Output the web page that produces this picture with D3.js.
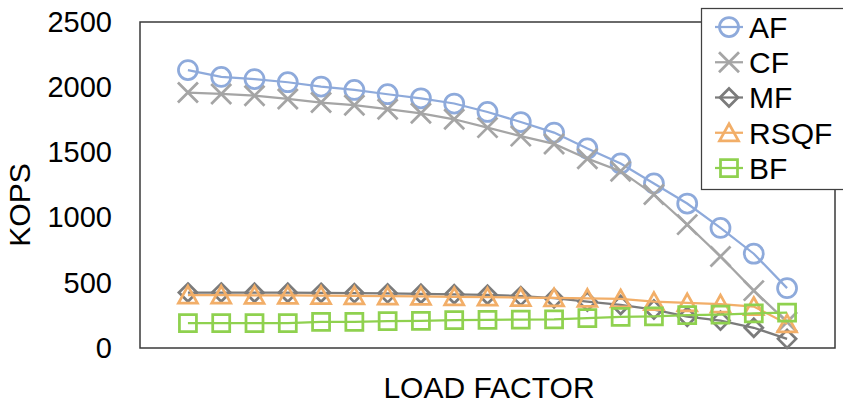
<!DOCTYPE html>
<html>
<head>
<meta charset="utf-8">
<script src="https://cdn.jsdelivr.net/npm/d3@7"></script>
</head>
<body style="margin:0; background:#fff;">
<svg id="chart" width="843" height="406"></svg>
<script>
    'use strict';

    // load factor points (x labels are hidden in the original)
    var loadFactors = d3.range(19);
    var yTicks = [0, 500, 1000, 1500, 2000, 2500];
    var seriesNames = ["AF", "CF", "MF", "RSQF", "BF"];

    var afValues   = [2131, 2079, 2062, 2038, 2005, 1979, 1946, 1915, 1875, 1810, 1733, 1652, 1530, 1415, 1262, 1108, 921, 723, 459];
    var cfValues   = [1959, 1948, 1935, 1910, 1882, 1862, 1831, 1800, 1754, 1690, 1625, 1565, 1452, 1356, 1177, 946, 702, 440, 200];
    var mfValues   = [425, 425, 424, 424, 423, 421, 419, 416, 412, 408, 398, 382, 356, 330, 295, 240, 210, 155, 70];
    var rsqfValues = [405, 405, 404, 403, 402, 400, 398, 396, 393, 390, 387, 384, 381, 376, 356, 346, 336, 318, 185];
    var bfValues   = [190, 190, 190, 191, 200, 201, 207, 208, 214, 215, 218, 220, 230, 238, 243, 252, 256, 265, 272];

    var colors = {AF: "#8eaadb", CF: "#a5a5a5", MF: "#7b7b7b", RSQF: "#f2ae68", BF: "#8fd14f"};
    var values = {AF: afValues, CF: cfValues, MF: mfValues, RSQF: rsqfValues, BF: bfValues};
    var font = "'Liberation Sans', Arial, sans-serif";

    var plot = {left: 140, right: 835, top: 22, bottom: 348};

    var svg = d3.select("#chart");

    var x = d3.scalePoint()
        .domain(loadFactors)
        .range([plot.left, plot.right])
        .padding(1.44);

    var y = d3.scaleLinear()
        .domain([0, 2500])
        .range([plot.bottom, plot.top]);

    // marker shapes, drawn as open outlines
    function markerPath(name) {
        var p = d3.path();
        if (name == "AF") {
            p.arc(0, 0, 9.5, 0, 2 * Math.PI);
        } else if (name == "CF") {
            p.moveTo(-10, -10); p.lineTo(10, 10);
            p.moveTo(-10, 10); p.lineTo(10, -10);
        } else if (name == "MF") {
            p.moveTo(0, -9); p.lineTo(9, 0); p.lineTo(0, 9); p.lineTo(-9, 0); p.closePath();
        } else if (name == "RSQF") {
            p.moveTo(0, -9); p.lineTo(9.5, 8); p.lineTo(-9.5, 8); p.closePath();
        } else {
            p.rect(-8.5, -8.5, 17, 17);
        }
        return p.toString();
    }

    // plot area frame
    svg.append("rect")
        .attr("x", plot.left)
        .attr("y", plot.top)
        .attr("width", plot.right - plot.left)
        .attr("height", plot.bottom - plot.top)
        .attr("fill", "none")
        .attr("stroke", "#3a3a3a")
        .attr("stroke-width", 1.5);

    // y axis labels only, no ticks or domain line
    var yAxis = svg.append("g")
        .attr("transform", "translate(112,0)")
        .call(d3.axisLeft(y).tickValues(yTicks).tickFormat(d3.format("d")).tickSize(0).tickPadding(0));
    yAxis.select(".domain").remove();
    yAxis.selectAll("text")
        .attr("font-family", font)
        .attr("font-size", "29px")
        .attr("fill", "#000");

    svg.append("text")
        .attr("transform", "translate(30,205) rotate(-90)")
        .attr("text-anchor", "middle")
        .attr("font-family", font)
        .attr("font-size", "30px")
        .text("KOPS");

    svg.append("text")
        .attr("x", 489)
        .attr("y", 398)
        .attr("text-anchor", "middle")
        .attr("font-family", font)
        .attr("font-size", "30px")
        .text("LOAD FACTOR");

    var line = d3.line()
        .x(function(d, i) { return x(i); })
        .y(function(d) { return y(d); });

    seriesNames.forEach(function(name) {
        var g = svg.append("g");
        g.append("path")
            .datum(values[name])
            .attr("d", line)
            .attr("fill", "none")
            .attr("stroke", colors[name])
            .attr("stroke-width", 2.25);
        g.selectAll("path.marker")
            .data(values[name])
            .join("path")
            .attr("class", "marker")
            .attr("transform", function(d, i) { return "translate(" + x(i) + "," + y(d) + ")"; })
            .attr("d", markerPath(name))
            .attr("fill", "none")
            .attr("stroke", colors[name])
            .attr("stroke-width", 2.75);
    });

    // legend
    var legend = svg.append("g");
    legend.append("rect")
        .attr("x", 701.5)
        .attr("y", 8.5)
        .attr("width", 160)
        .attr("height", 181)
        .attr("fill", "#fff")
        .attr("stroke", "#404040")
        .attr("stroke-width", 1.25);

    var rowY = d3.scalePoint().domain(seriesNames).range([27, 168]);

    seriesNames.forEach(function(name) {
        var row = legend.append("g").attr("transform", "translate(0," + rowY(name) + ")");
        row.append("line")
            .attr("x1", 715).attr("x2", 743)
            .attr("stroke", colors[name])
            .attr("stroke-width", 2.25);
        row.append("path")
            .attr("transform", "translate(729,0)")
            .attr("d", markerPath(name))
            .attr("fill", "none")
            .attr("stroke", colors[name])
            .attr("stroke-width", 2.75);
        row.append("text")
            .attr("x", 749)
            .attr("y", 0)
            .attr("dy", "0.36em")
            .attr("font-family", font)
            .attr("font-size", "30px")
            .text(name);
    });
</script>
</body>
</html>
